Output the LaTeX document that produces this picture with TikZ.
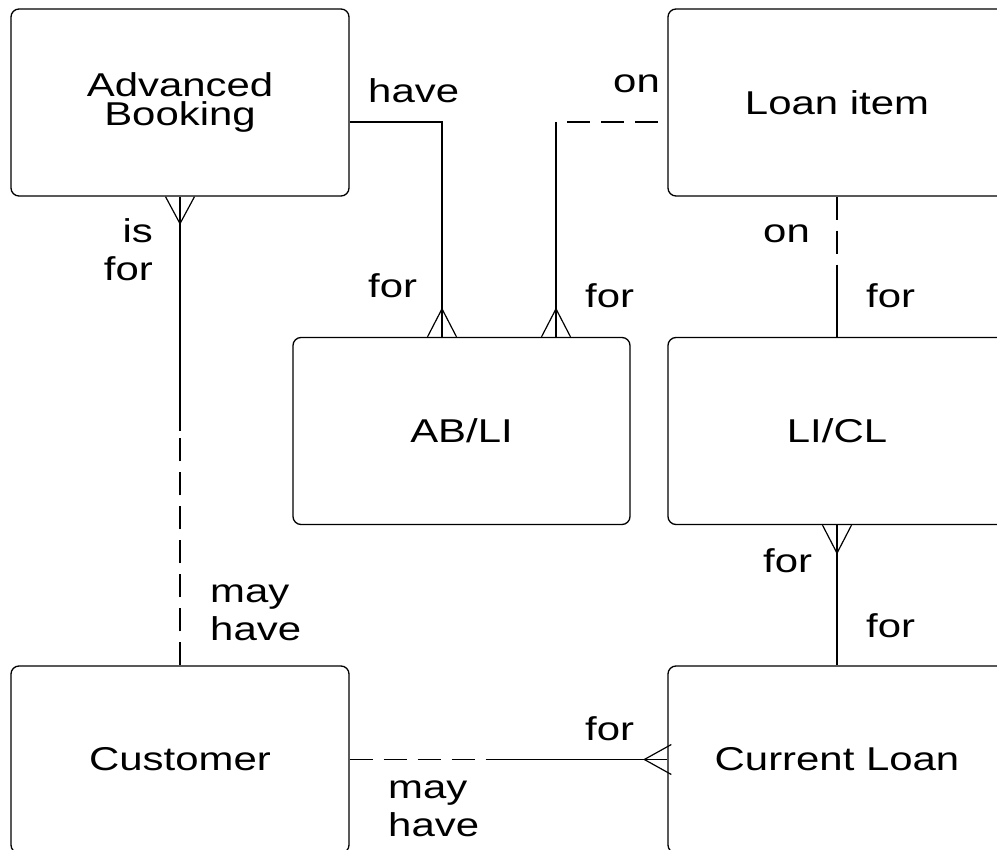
\documentclass[tikz,border=0pt]{standalone}
\usepackage{fontspec}
\setmainfont{Liberation Sans}[FakeStretch=1.27]
\usetikzlibrary{calc}
\begin{document}
\begin{tikzpicture}[x=1pt,y=-1pt,
  box/.style={draw, rounded corners=8pt, line width=1.3pt, minimum width=338pt, minimum height=187pt, align=center, inner sep=0pt, font=\fontsize{33}{28.5}\selectfont},
  lbl/.style={inner sep=0pt, font=\fontsize{33}{38}\selectfont},
  conn/.style={line width=1.2pt},
  opt/.style={conn, dash pattern=on 23pt off 11pt}]
\useasboundingbox (0,0) rectangle (997,850);
\clip (0,0) rectangle (997,850);
% entities
\node[box] (ab) at (180,102.5) {Advanced\\Booking};
\node[box] (li) at (837,102.5) {Loan item};
\node[box, minimum width=337pt] (abli) at (461.5,431) {AB/LI};
\node[box] (licl) at (837,431) {LI/CL};
\node[box] (cust) at (180,759.5) {Customer};
\node[box] (cl) at (837,759.5) {Current Loan};
% Advanced Booking -- Customer
\coordinate (m1) at ($(ab.south)!0.5!(cust.north)$);
\draw[conn] (ab.south) -- (m1);
\draw[opt] (cust.north) -- (m1);
\draw[conn] ($(ab.south)+(-14.5,0)$) -- ($(ab.south)+(0,27)$) -- ($(ab.south)+(14.5,0)$);
% Advanced Booking -- AB/LI
\coordinate (e1) at ([yshift=-19.5pt]ab.east);
\coordinate (n1) at ([xshift=-19.5pt]abli.north);
\draw[conn] (e1) -| (n1);
\draw[conn] ($(n1)+(-14.5,0)$) -- ($(n1)+(0,-28)$) -- ($(n1)+(14.5,0)$);
% Loan item -- AB/LI
\coordinate (w1) at ([yshift=-19.5pt]li.west);
\coordinate (n2) at ([xshift=94.5pt]abli.north);
\coordinate (k2) at (n2 |- w1);
\draw[opt, dash phase=23pt] (k2) -- (w1);
\draw[conn] (k2) -- (n2);
\draw[conn] ($(n2)+(-14.5,0)$) -- ($(n2)+(0,-28)$) -- ($(n2)+(14.5,0)$);
% Loan item -- LI/CL
\coordinate (m3) at ($(li.south)!0.5!(licl.north)$);
\draw[opt] (li.south) -- (m3);
\draw[conn] (m3) -- (licl.north);
% LI/CL -- Current Loan
\draw[conn] (licl.south) -- (cl.north);
\draw[conn] ($(licl.south)+(-14.5,0)$) -- ($(licl.south)+(0,28)$) -- ($(licl.south)+(14.5,0)$);
% Customer -- Current Loan
\coordinate (m4) at ($(cust.east)!0.5!(cl.west)$);
\draw[opt] (cust.east) -- (m4);
\draw[conn] (m4) -- (cl.west);
\draw[conn] ($(cl.west)+(4,-15)$) -- ($(cl.west)+(-23,0)$) -- ($(cl.west)+(4,15)$);
% labels
\node[lbl, anchor=base west] (lhave) at (368,103) {have};
\node[lbl, anchor=base west] (lon1) at (613,93) {on};
\node[lbl, anchor=base east] (lisfor) at (153,243) {\begin{tabular}[t]{@{}r@{}}is\\for\end{tabular}};
\node[lbl, anchor=base west] (lfor1) at (368,298) {for};
\node[lbl, anchor=base west] (lfor2) at (585,308) {for};
\node[lbl, anchor=base west] (lon2) at (763,243) {on};
\node[lbl, anchor=base west] (lfor3) at (866,308) {for};
\node[lbl, anchor=base west] (lfor4) at (763,572) {for};
\node[lbl, anchor=base west] (lfor5) at (866,637) {for};
\node[lbl, anchor=base west] (lmay1) at (210,602) {\begin{tabular}[t]{@{}l@{}}may\\have\end{tabular}};
\node[lbl, anchor=base west] (lfor6) at (585,740) {for};
\node[lbl, anchor=base west] (lmay2) at (388,798) {\begin{tabular}[t]{@{}l@{}}may\\have\end{tabular}};
\end{tikzpicture}
\end{document}
